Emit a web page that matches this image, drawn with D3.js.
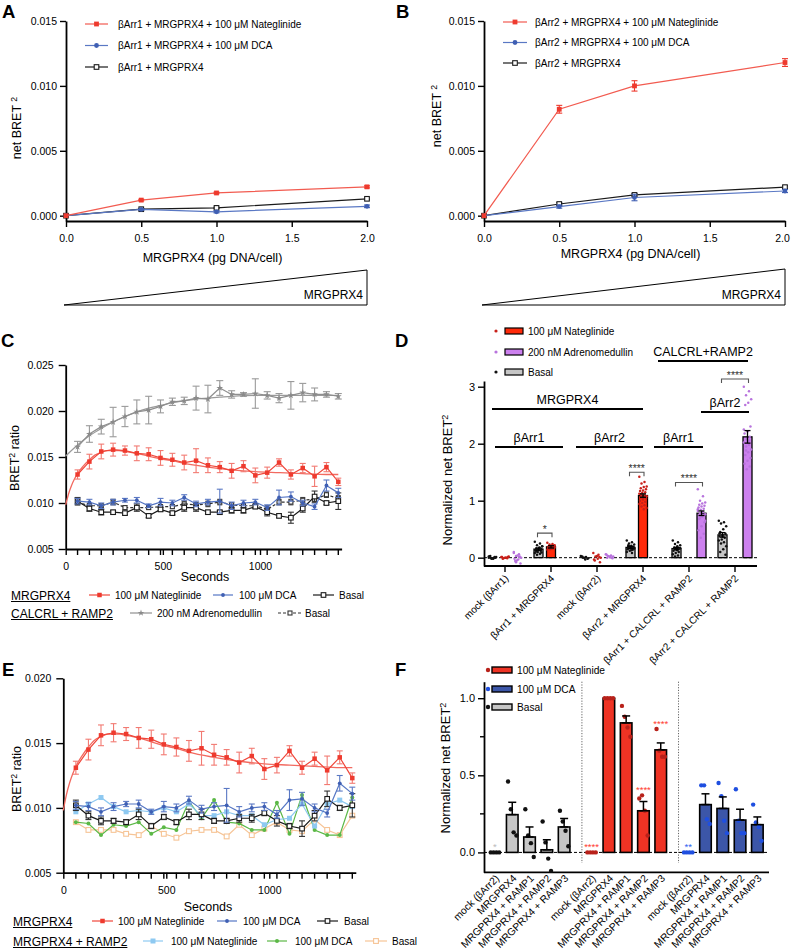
<!DOCTYPE html>
<html><head><meta charset="utf-8">
<script src="https://cdn.jsdelivr.net/npm/d3@7/dist/d3.min.js"></script>
<style>
html,body{margin:0;padding:0;background:#fff;}
svg{display:block;}
</style></head><body>
<script>
// ================= DATA =================
// Panels A/B : dose response
const doseX = [0, 0.5, 1, 2];
const doseTicks = [0, 0.5, 1, 1.5, 2];
const netTicks = [0, 0.005, 0.010, 0.015];
const a_nate = [0, 0.0012, 0.00175, 0.00222];
const a_nateErr = [0, 0.00006, 0.00006, 0.00008];
const a_dca = [0, 0.00048, 0.0003, 0.00072];
const a_dcaErr = [0, 0.00006, 0.00008, 0.0001];
const a_basal = [0, 0.0005, 0.0006, 0.0013];
const a_basalErr = [0, 0.00005, 0.00005, 0.00006];
const b_nate = [0, 0.0082, 0.0100, 0.0118];
const b_nateErr = [0, 0.0003, 0.0004, 0.0003];
const b_dca = [0, 0.0007, 0.0014, 0.0019];
const b_dcaErr = [0, 0.00012, 0.00025, 0.00012];
const b_basal = [0, 0.0009, 0.0016, 0.0022];
const b_basalErr = [0, 0.0001, 0.0001, 0.0001];

// Panels C/E : kinetics
const tSec = [61,122,183,244,305,366,427,488,549,610,671,732,793,854,915,976,1037,1098,1159,1220,1281,1342,1403];
const timeTicks = [0, 500, 1000];
const cTicks = [0.005, 0.010, 0.015, 0.020, 0.025];
const eTicks = [0.005, 0.010, 0.015, 0.020];
const x4Nate = [0.0131,0.0145,0.0156,0.0158,0.0157,0.0154,0.0153,0.0149,0.0147,0.0144,0.0146,0.0141,0.0139,0.0135,0.0140,0.0130,0.0133,0.0144,0.0131,0.0138,0.0129,0.0139,0.0123];
const x4NateErr = [0.0005,0.0008,0.0008,0.0007,0.0005,0.0008,0.0007,0.0008,0.0007,0.0008,0.0013,0.0008,0.0006,0.0008,0.0006,0.0008,0.0006,0.0004,0.0005,0.0005,0.0011,0.0005,0.0004];
const x4NateFitT = [0,15,30,45,61,90,122,150,183,215,244,275,305,366,427,488,549,610,732,854,976,1098,1220,1342,1403];
const x4NateFit = [0.0098,0.0110,0.0119,0.0126,0.0132,0.0140,0.0147,0.0152,0.0155,0.0157,0.0157,0.0157,0.0156,0.0154,0.0151,0.0148,0.0146,0.0143,0.0139,0.0136,0.0134,0.0133,0.0132,0.0131,0.0131];
const x4Dca = [0.0102,0.0101,0.0097,0.0101,0.0103,0.0103,0.0097,0.0101,0.0100,0.0106,0.0099,0.0101,0.0102,0.0097,0.0100,0.0101,0.0095,0.0106,0.0107,0.0100,0.0096,0.0119,0.0111];
const x4DcaErr = [0.0003,0.0003,0.0003,0.0003,0.0002,0.0003,0.0002,0.0004,0.0003,0.0003,0.0003,0.0003,0.0013,0.0004,0.0003,0.0003,0.0003,0.0008,0.0005,0.0003,0.0003,0.0006,0.0005];
const x4Basal = [0.0102,0.0094,0.0090,0.0090,0.0089,0.0095,0.0086,0.0093,0.0089,0.0095,0.0095,0.0090,0.0090,0.0092,0.0092,0.0096,0.0090,0.0086,0.0084,0.0094,0.0107,0.0100,0.0102];
const x4BasalErr = [0.0004,0.0003,0.0003,0.0002,0.0002,0.0004,0.0002,0.0002,0.0002,0.0004,0.0004,0.0002,0.0002,0.0003,0.0003,0.0002,0.0004,0.0002,0.0006,0.0004,0.0006,0.0002,0.0009];
const crAdm = [0.0161,0.0175,0.0183,0.0188,0.0194,0.0199,0.0201,0.0205,0.0210,0.0211,0.0214,0.0213,0.0225,0.0218,0.0218,0.0219,0.0217,0.0214,0.0217,0.0220,0.0218,0.0218,0.0216];
const crAdmErr = [0.0006,0.0009,0.0008,0.0016,0.0011,0.0013,0.0015,0.0007,0.0004,0.0004,0.0013,0.0015,0.0008,0.0004,0.0002,0.0016,0.0004,0.0005,0.0015,0.0010,0.0007,0.0003,0.0003];
const crAdmFitT = [0,61,122,183,244,305,366,427,488,549,610,671,732,793,854,976,1098,1220,1403];
const crAdmFit = [0.0151,0.0163,0.0173,0.0181,0.0188,0.0194,0.0199,0.0203,0.0206,0.0209,0.0211,0.0213,0.0214,0.0215,0.0216,0.0217,0.0217,0.0217,0.0217];
const crBasal = [0.0101,0.0097,0.0097,0.0101,0.0095,0.0095,0.0095,0.0096,0.0096,0.0099,0.0098,0.0099,0.0101,0.0098,0.0097,0.0097,0.0093,0.0101,0.0101,0.0103,0.0104,0.0109,0.0105];
const crBasalErr = [0.0003,0.0002,0.0002,0.0003,0.0002,0.0002,0.0002,0.0002,0.0002,0.0003,0.0002,0.0003,0.0003,0.0002,0.0002,0.0002,0.0004,0.0003,0.0003,0.0003,0.0003,0.0003,0.0003];
const r2Nate = [0.0097,0.0103,0.0108,0.0101,0.0097,0.0098,0.0097,0.0100,0.0097,0.0103,0.0094,0.0094,0.0097,0.0094,0.0094,0.0087,0.0091,0.0092,0.0103,0.0086,0.0103,0.0106,0.0101];
const r2Dca = [0.0089,0.0088,0.0079,0.0087,0.0086,0.0089,0.0080,0.0085,0.0083,0.0105,0.0092,0.0106,0.0089,0.0088,0.0083,0.0083,0.0104,0.0080,0.0110,0.0083,0.0079,0.0079,0.0108];
const r2Basal = [0.0089,0.0083,0.0083,0.0083,0.0080,0.0079,0.0086,0.0080,0.0077,0.0082,0.0083,0.0083,0.0078,0.0087,0.0079,0.0084,0.0089,0.0083,0.0082,0.0091,0.0083,0.0079,0.0094];

// Panel D : normalized net BRET2
const dGroups = ["mock (βArr1)", "βArr1 + MRGPRX4", "mock (βArr2)", "βArr2 + MRGPRX4", "βArr1 + CALCRL + RAMP2", "βArr2 + CALCRL + RAMP2"];
const dTreat = ["Basal", "Nateglinide", "Adrenomedullin"];
const dTicks = [0, 1, 2, 3];
const dBasal = [0.0, 0.15, 0.0, 0.18, 0.16, 0.40];
const dBasalErr = [0.01, 0.02, 0.01, 0.02, 0.02, 0.04];
const dNate = [0.0, 0.19, 0.0, 1.09, null, null];
const dNateErr = [0.01, 0.02, 0.01, 0.03, null, null];
const dAdm = [0.0, null, 0.0, null, 0.78, 2.12];
const dAdmErr = [0.01, null, 0.01, null, 0.04, 0.11];
const dBasalPts = [
  [0.02,0.0,-0.01,0.01,-0.02,0.03,0.0,-0.01,0.02,0.01,-0.02,0.0],
  [0.28,0.25,0.22,0.2,0.18,0.16,0.15,0.14,0.13,0.12,0.1,0.08,0.07,0.05,0.2,0.17,0.11,0.09,0.15,0.13],
  [0.03,0.01,0.0,-0.01,-0.03,0.02,-0.02,0.0,0.01],
  [0.3,0.27,0.25,0.23,0.21,0.19,0.18,0.17,0.15,0.14,0.12,0.1,0.08,0.2,0.16,0.13,0.22,0.19],
  [0.3,0.27,0.24,0.22,0.2,0.18,0.16,0.14,0.12,0.1,0.08,0.06,0.04,0.02,0.17,0.13],
  [0.65,0.62,0.6,0.55,0.5,0.45,0.42,0.4,0.38,0.35,0.32,0.3,0.27,0.25,0.2,0.15,0.1,0.05,0.37,0.43]
];
const dNatePts = [
  [0.01,0.0,-0.01,0.02,0.0,-0.02,0.01,0.0,0.01,-0.01],
  [0.26,0.24,0.23,0.22,0.21,0.2,0.19,0.18,0.17,0.16,0.15,0.14,0.22,0.2,0.18,0.16,0.19,0.21],
  [0.08,0.05,0.02,0.0,-0.02,-0.05,-0.08,0.03,-0.03,0.01],
  [1.42,1.33,1.3,1.25,1.24,1.22,1.2,1.18,1.17,1.15,1.14,1.12,1.1,1.09,1.08,1.06,1.05,1.04,1.02,1.0,0.98,0.96,0.94,0.92,0.9,0.87,0.85,1.11,1.07,1.03],
  null, null
];
const dAdmPts = [
  [0.1,0.06,0.03,0.0,-0.03,-0.06,-0.1,0.04,-0.02,0.02,-0.05,0.08,0.01,-0.08],
  null,
  [0.06,0.04,0.03,0.02,0.01,0.0,-0.01,0.02,0.05,0.0],
  null,
  [1.2,1.08,1.0,0.97,0.95,0.93,0.91,0.9,0.88,0.86,0.84,0.82,0.8,0.78,0.76,0.72,0.68,0.62,0.55,0.48,0.42,0.35,0.85,0.75,0.7,0.65],
  [3.0,2.92,2.85,2.78,2.72,2.68,2.3,2.22,2.18,2.12,2.08,2.02,1.98,1.95,1.9,1.85,1.8,1.75,1.7,1.65,1.6,1.55,2.25,2.05,1.88]
];
const dSig = [
  {group: 1, from: "Basal", to: "Nateglinide", y: 0.43, label: "*"},
  {group: 3, from: "Basal", to: "Nateglinide", y: 1.50, label: "****"},
  {group: 4, from: "Basal", to: "Adrenomedullin", y: 1.32, label: "****"},
  {group: 5, from: "Basal", to: "Adrenomedullin", y: 3.135, label: "****"}
];

// Panel F
const fSets = ["Basal", "Nateglinide", "DCA"];
const fCats = ["mock (βArr2)", "MRGPRX4", "MRGPRX4 + RAMP1", "MRGPRX4 + RAMP2", "MRGPRX4 + RAMP3"];
const fTicks = [0, 0.5, 1.0];
const fMinorTicks = [0.25, 0.75];
const fBasal = [0, 0.245, 0.10, 0.017, 0.165];
const fBasalErr = [0, 0.08, 0.065, 0.065, 0.055];
const fNate = [0, 1.0, 0.84, 0.27, 0.665];
const fNateErr = [0, 0, 0.045, 0.06, 0.045];
const fDca = [0, 0.31, 0.285, 0.21, 0.18];
const fDcaErr = [0, 0.07, 0.075, 0.07, 0.05];
const fBasalPts = [[0,0,0,0],[0.46,0.28,0.13,0.11],[0.28,0.11,0.06,-0.03],[0.2,0.065,-0.04,-0.12],[0.27,0.2,0.14,0.04]];
const fNatePts = [[0,0,0,0],[1,1,1,1],[0.95,0.88,0.81,0.75],[0.35,0.37,0.27,0.11],[0.8,0.66,0.62,0.62]];
const fDcaPts = [[0,0,0,0],[0.435,0.435,0.215,0.185],[0.45,0.365,0.205,0.125],[0.41,0.205,0.125,0.125],[0.31,0.195,0.165,0.075]];
const fBasalSig = ["*", "", "", "", ""];
const fNateSig = ["****", "", "", "****", "****"];
const fDcaSig = ["**", "", "", "", ""];

// ================= DRAWING =================
const FONT = 'Arial, "Liberation Sans", Helvetica, sans-serif';
const svg = d3.select('body').append('svg').attr('width', 791).attr('height', 952).attr('font-family', FONT);
svg.append('rect').attr('width', 791).attr('height', 952).attr('fill', '#fff');

function txt(g, s, x, y, o = {}) {
  const t = g.append('text').attr('x', x).attr('y', y).attr('font-size', o.size || 10.5)
    .attr('fill', o.fill || '#000').attr('text-anchor', o.anchor || 'start').attr('font-family', FONT);
  if (o.weight) t.attr('font-weight', o.weight);
  if (o.rotate) t.attr('transform', `rotate(${o.rotate},${x},${y})`);
  t.text(s);
  return t;
}
function vtitle(g, parts, x, y, size) {
  const t = g.append('text').attr('transform', `translate(${x},${y}) rotate(-90)`)
    .attr('text-anchor', 'middle').attr('font-size', size).attr('font-family', FONT).attr('fill', '#000');
  parts.forEach(p => {
    const s = t.append('tspan').text(p.t);
    if (p.sup) s.attr('font-size', size * 0.7).attr('baseline-shift', '45%');
  });
  return t;
}
function styleAxis(a, fs) {
  a.attr('font-family', FONT).attr('font-size', fs);
  a.select('.domain').attr('stroke', '#000').attr('stroke-width', 1.8);
  a.selectAll('.tick line').attr('stroke', '#000').attr('stroke-width', 1.4);
  a.selectAll('.tick text').attr('fill', '#000');
}
function marker(g, type, x, y, color, s) {
  if (type === 'square') g.append('rect').attr('x', x - s / 2).attr('y', y - s / 2).attr('width', s).attr('height', s).attr('fill', color);
  else if (type === 'osquare') g.append('rect').attr('x', x - s / 2).attr('y', y - s / 2).attr('width', s).attr('height', s).attr('fill', '#fff').attr('stroke', color).attr('stroke-width', 1.1);
  else if (type === 'circle') g.append('circle').attr('cx', x).attr('cy', y).attr('r', s / 2).attr('fill', color);
  else if (type === 'star') g.append('path').attr('d', d3.symbol(d3.symbolStar, s * s * 0.8)()).attr('transform', `translate(${x},${y})`).attr('fill', color);
}
function errBar(g, x, y1, y2, color, cap, w) {
  g.append('line').attr('x1', x).attr('x2', x).attr('y1', y1).attr('y2', y2).attr('stroke', color).attr('stroke-width', w || 1);
  [y1, y2].forEach(yy => g.append('line').attr('x1', x - cap / 2).attr('x2', x + cap / 2).attr('y1', yy).attr('y2', yy).attr('stroke', color).attr('stroke-width', w || 1));
}
function series(g, xs, ys, errs, sx, sy, o) {
  const line = d3.line().x((d, i) => sx(xs[i])).y(d => sy(d));
  g.append('path').attr('d', line(ys)).attr('fill', 'none').attr('stroke', o.line || o.color)
    .attr('stroke-width', o.lw || 1.2).attr('stroke-dasharray', o.dash || null);
  if (errs) ys.forEach((v, i) => { if (errs[i] > 0) errBar(g, sx(xs[i]), sy(v - errs[i]), sy(v + errs[i]), o.errColor || o.color, o.cap || 6, o.errW || 1.1); });
  ys.forEach((v, i) => marker(g, o.marker, sx(xs[i]), sy(v), o.color, o.size || 5));
}
function fitCurve(g, ts, vs, sx, sy, color, w) {
  const line = d3.line().x((d, i) => sx(ts[i])).y(d => sy(d)).curve(d3.curveMonotoneX);
  g.append('path').attr('d', line(vs)).attr('fill', 'none').attr('stroke', color).attr('stroke-width', w || 1.2);
}
function legendLine(g, x1, x2, y, o) {
  g.append('line').attr('x1', x1).attr('x2', x2).attr('y1', y).attr('y2', y).attr('stroke', o.line || o.color)
    .attr('stroke-width', 1.2).attr('stroke-dasharray', o.dash || null);
  marker(g, o.marker, (x1 + x2) / 2, y, o.color, o.size || 5);
}
function underlined(g, s, x, y, size) {
  const t = txt(g, s, x, y, {size: size});
  const w = t.node().getComputedTextLength();
  g.append('line').attr('x1', x).attr('x2', x + w).attr('y1', y + 2).attr('y2', y + 2).attr('stroke', '#000').attr('stroke-width', 1);
}

// colours
const RED = '#ee3a2e', RED_ERR = '#f27a72', BLUE = '#3f5fb3', BLACK = '#1a1a1a', GRAY = '#8a8a8a';
const LBLUE = '#8ec9f1', GREEN = '#5bb846', PEACH = '#f6c496';

// panel letters
txt(svg, 'A', 2, 18, {size: 18.5, weight: 'bold'});
txt(svg, 'B', 396, 18, {size: 18.5, weight: 'bold'});
txt(svg, 'C', 1, 347, {size: 18.5, weight: 'bold'});
txt(svg, 'D', 395, 347, {size: 18.5, weight: 'bold'});
txt(svg, 'E', 2, 676, {size: 18.5, weight: 'bold'});
txt(svg, 'F', 395, 676, {size: 18.5, weight: 'bold'});

// ---------- Panels A & B ----------
const yNet = d3.scaleLinear().domain([-0.00041, 0.015]).range([221, 21]);
function dosePanel(x0, x1, sets, legend, arr, titleY, yTitleX, yTitleY) {
  const sx = d3.scaleLinear().domain([0, 2]).range([x0, x1]);
  const g = svg.append('g');
  styleAxis(g.append('g').attr('transform', `translate(${x0},0)`)
    .call(d3.axisLeft(yNet).tickValues(netTicks).tickFormat(d3.format('.3f')).tickSize(6).tickSizeOuter(0).tickPadding(3)), 10.5);
  const xa = g.append('g').attr('transform', `translate(0,221)`)
    .call(d3.axisBottom(sx).tickValues(doseTicks).tickFormat(d3.format('.1f')).tickSize(6).tickSizeOuter(0).tickPadding(8));
  styleAxis(xa, 10.5);
  // keep the last tick label inside the canvas
  xa.selectAll('.tick text').filter(d => d === 2 && x1 > 780).attr('dx', -3);
  txt(g, 'MRGPRX4 (pg DNA/cell)', (x0 + x1) / 2 - 4, titleY, {size: 12.5, anchor: 'middle'});
  vtitle(g, [{t: 'net BRET '}, {t: '2', sup: true}], yTitleX, yTitleY, 12.5);
  sets.forEach(s => series(g, doseX, s.v, s.e, sx, yNet, s.o));
  legend.forEach((l, i) => {
    legendLine(g, l.x1, l.x2, l.y, l.o);
    txt(g, l.label, l.tx, l.y + 3.6, {size: 10});
  });
  // increasing DNA triangle
  const tri = [[sx(0) - 2, 305], [sx(2), arr], [sx(2), 305]];
  g.append('path').attr('d', d3.line()(tri) + 'Z').attr('fill', 'none').attr('stroke', '#000').attr('stroke-width', 1);
  txt(g, 'MRGPRX4', sx(2) - 4, 299, {size: 12, anchor: 'end'});
}
const oNate = {color: RED, line: '#f25b50', marker: 'square', size: 4.8};
const oDca = {color: BLUE, line: '#5a78c4', marker: 'circle', size: 4.8};
const oBas = {color: BLACK, marker: 'osquare', size: 4.6};
dosePanel(66, 367,
  [{v: a_basal, e: a_basalErr, o: oBas}, {v: a_dca, e: a_dcaErr, o: oDca}, {v: a_nate, e: a_nateErr, o: oNate}],
  [{x1: 85, x2: 108, y: 24, tx: 118, o: oNate, label: 'βArr1 + MRGPRX4 + 100 μM Nateglinide'},
   {x1: 85, x2: 108, y: 45.5, tx: 118, o: oDca, label: 'βArr1 + MRGPRX4 + 100 μM DCA'},
   {x1: 85, x2: 108, y: 67, tx: 118, o: oBas, label: 'βArr1 + MRGPRX4'}],
  270, 262, 21, 128);
dosePanel(484, 785,
  [{v: b_basal, e: b_basalErr, o: oBas}, {v: b_dca, e: b_dcaErr, o: oDca}, {v: b_nate, e: b_nateErr, o: oNate}],
  [{x1: 503, x2: 527, y: 22, tx: 535, o: oNate, label: 'βArr2 + MRGPRX4 + 100 μM Nateglinide'},
   {x1: 503, x2: 527, y: 42.5, tx: 535, o: oDca, label: 'βArr2 + MRGPRX4 + 100 μM DCA'},
   {x1: 503, x2: 527, y: 63, tx: 535, o: oBas, label: 'βArr2 + MRGPRX4'}],
  269, 258, 441, 116);

// ---------- Panels C & E ----------
function timeAxes(g, sx, sy, ticks, axisY, x0) {
  styleAxis(g.append('g').attr('transform', `translate(${x0},0)`)
    .call(d3.axisLeft(sy).tickValues(ticks).tickFormat(d3.format('.3f')).tickSize(7).tickSizeOuter(0).tickPadding(5)), 10.5);
  const xa = g.append('g').attr('transform', `translate(0,${axisY})`)
    .call(d3.axisBottom(sx).tickValues(timeTicks).tickFormat(d3.format('d')).tickSize(6).tickSizeOuter(0).tickPadding(8));
  styleAxis(xa, 10.5);
  tSec.forEach(t => g.append('line').attr('x1', sx(t)).attr('x2', sx(t)).attr('y1', axisY).attr('y2', axisY + 6)
    .attr('stroke', '#000').attr('stroke-width', 1.4));
}
const oNateT = {color: RED, line: '#f0463a', marker: 'square', size: 4.5, errColor: RED_ERR, cap: 6};
const oDcaT = {color: BLUE, line: '#5576c4', marker: 'circle', size: 3.8, errColor: '#5a78c4', cap: 6};
const oBasT = {color: BLACK, marker: 'osquare', size: 4.6, errColor: '#333', cap: 6};
const oAdmT = {color: GRAY, line: '#8f8f8f', marker: 'star', size: 4.2, errColor: '#9a9a9a', cap: 7};
const oCrBasT = {color: '#333', line: '#333', marker: 'osquare', size: 4, dash: '3,2', errColor: '#444', cap: 5};
const oR2Nate = {color: LBLUE, marker: 'square', size: 5};
const oR2Dca = {color: GREEN, marker: 'circle', size: 4};
const oR2Bas = {color: PEACH, marker: 'osquare', size: 4.8};

// Panel C
{
  const g = svg.append('g');
  const sx = d3.scaleLinear().domain([0, 1420]).range([65.7, 341.6]);
  const sy = d3.scaleLinear().domain([0.005, 0.025]).range([549, 365]);
  timeAxes(g, sx, sy, cTicks, 549, 65.7);
  txt(g, 'Seconds', 205, 581, {size: 12.5, anchor: 'middle'});
  vtitle(g, [{t: 'BRET'}, {t: '2', sup: true}, {t: ' ratio'}], 19, 458, 12.5);
  fitCurve(g, crAdmFitT, crAdmFit, sx, sy, '#9a9a9a', 1.3);
  series(g, tSec, crAdm, crAdmErr, sx, sy, oAdmT);
  series(g, tSec, crBasal, crBasalErr, sx, sy, oCrBasT);
  series(g, tSec, x4Basal, x4BasalErr, sx, sy, oBasT);
  series(g, tSec, x4Dca, x4DcaErr, sx, sy, oDcaT);
  fitCurve(g, x4NateFitT, x4NateFit, sx, sy, '#f26a60', 1.3);
  series(g, tSec, x4Nate, x4NateErr, sx, sy, oNateT);
  // legend
  underlined(g, 'MRGPRX4', 11, 599.5, 12);
  legendLine(g, 89, 110, 595, oNateT); txt(g, '100 μM Nateglinide', 115, 598.6, {size: 10});
  legendLine(g, 213, 233, 595, oDcaT); txt(g, '100 μM DCA', 239, 598.6, {size: 10});
  legendLine(g, 313, 334, 595, oBasT); txt(g, 'Basal', 339, 598.6, {size: 10});
  underlined(g, 'CALCRL + RAMP2', 11, 617.5, 12);
  legendLine(g, 130, 152, 613, oAdmT); txt(g, '200 nM Adrenomedullin', 157, 616.6, {size: 10});
  legendLine(g, 278, 302, 613, oCrBasT); txt(g, 'Basal', 305, 616.6, {size: 10});
}

// Panel E
{
  const g = svg.append('g');
  const sx = d3.scaleLinear().domain([0, 1420]).range([63.3, 355.8]);
  const sy = d3.scaleLinear().domain([0.005, 0.020]).range([872.7, 678.3]);
  timeAxes(g, sx, sy, eTicks, 872.7, 63.3);
  txt(g, 'Seconds', 208, 911, {size: 12.5, anchor: 'middle'});
  vtitle(g, [{t: 'BRET'}, {t: '2', sup: true}, {t: ' ratio'}], 21, 779, 12.5);
  series(g, tSec, r2Basal, null, sx, sy, oR2Bas);
  series(g, tSec, r2Dca, null, sx, sy, oR2Dca);
  series(g, tSec, r2Nate, null, sx, sy, oR2Nate);
  series(g, tSec, x4Basal, x4BasalErr, sx, sy, oBasT);
  series(g, tSec, x4Dca, x4DcaErr, sx, sy, oDcaT);
  fitCurve(g, x4NateFitT, x4NateFit, sx, sy, '#f26a60', 1.3);
  series(g, tSec, x4Nate, x4NateErr, sx, sy, oNateT);
  underlined(g, 'MRGPRX4', 13, 925.5, 12);
  legendLine(g, 92, 113, 921, oNateT); txt(g, '100 μM Nateglinide', 118, 924.6, {size: 10});
  legendLine(g, 217, 237, 921, oDcaT); txt(g, '100 μM DCA', 243, 924.6, {size: 10});
  legendLine(g, 317, 338, 921, oBasT); txt(g, 'Basal', 344, 924.6, {size: 10});
  underlined(g, 'MRGPRX4 + RAMP2', 13, 945.5, 12);
  legendLine(g, 143, 163, 941, oR2Nate); txt(g, '100 μM Nateglinide', 171, 944.6, {size: 10});
  legendLine(g, 267, 287, 941, oR2Dca); txt(g, '100 μM DCA', 295, 944.6, {size: 10});
  legendLine(g, 365, 387, 941, oR2Bas); txt(g, 'Basal', 392, 944.6, {size: 10});
}

// ---------- Panel D ----------
{
  const g = svg.append('g');
  const gx = d3.scaleBand().domain(dGroups).range([482, 758]);
  const ix = d3.scaleBand().domain(dTreat).range([6, 40]).paddingInner(0.28);
  const sy = d3.scaleLinear().domain([-0.146, 3.1]).range([566, 381]);
  const cx = (gi, tr) => gx(dGroups[gi]) + ix(tr) + ix.bandwidth() / 2;
  styleAxis(g.append('g').attr('transform', 'translate(484,0)')
    .call(d3.axisLeft(sy).tickValues(dTicks).tickFormat(d3.format('d')).tickSize(6).tickSizeOuter(0).tickPadding(3)), 11);
  const xa = g.append('g').attr('transform', 'translate(0,566)')
    .call(d3.axisBottom(gx).tickSize(6).tickSizeOuter(0).tickFormat(''));
  styleAxis(xa, 10);
  xa.select('.domain').attr('d', 'M484,0H757');
  dGroups.forEach(name => {
    const c = gx(name) + gx.bandwidth() / 2;
    txt(g, name, c + 4, 579, {size: 10, anchor: 'end', rotate: -45});
  });
  vtitle(g, [{t: 'Normalized net BRET'}, {t: '2', sup: true}], 452, 480, 13);
  g.append('line').attr('x1', 484).attr('x2', 757).attr('y1', sy(0)).attr('y2', sy(0))
    .attr('stroke', '#000').attr('stroke-width', 1).attr('stroke-dasharray', '3,2');
  const sets = [
    {tr: 'Basal', v: dBasal, e: dBasalErr, p: dBasalPts, fill: '#c6c6c6', dot: '#111'},
    {tr: 'Nateglinide', v: dNate, e: dNateErr, p: dNatePts, fill: '#ff2a0a', dot: '#c8201a'},
    {tr: 'Adrenomedullin', v: dAdm, e: dAdmErr, p: dAdmPts, fill: '#cc80ee', dot: '#b873dd'}
  ];
  const bw = ix.bandwidth();
  sets.forEach(s => {
    s.v.forEach((v, gi) => {
      if (v === null) return;
      const x = cx(gi, s.tr);
      if (Math.abs(v) > 0.02) {
        g.append('rect').attr('x', x - bw / 2).attr('y', sy(v)).attr('width', bw).attr('height', sy(0) - sy(v))
          .attr('fill', s.fill).attr('stroke', '#000').attr('stroke-width', 1.3);
      }
      const pts = s.p[gi];
      if (pts) pts.forEach((pv, i) => {
        const off = (((i * 7) % 11) - 5) / 5 * (bw / 2 - 0.8);
        g.append('circle').attr('cx', x + off).attr('cy', sy(pv)).attr('r', 1.25).attr('fill', s.dot);
      });
      if (Math.abs(v) > 0.02 && s.e[gi]) errBar(g, x, sy(v - s.e[gi]), sy(v + s.e[gi]), '#000', 6, 1.3);
    });
  });
  // significance brackets
  dSig.forEach(s => {
    const x1 = cx(s.group, s.from) - 1, x2 = cx(s.group, s.to) + 1, y = sy(s.y);
    g.append('path').attr('d', `M${x1},${y + 4}V${y}H${x2}V${y + 4}`).attr('fill', 'none').attr('stroke', '#555').attr('stroke-width', 1.1);
    txt(g, s.label, (x1 + x2) / 2, y - 0.5, {size: 10.5, anchor: 'middle', fill: '#333'});
  });
  // header labels
  const gs = i => gx(dGroups[i]);
  const heads = [
    {t: 'CALCRL+RAMP2', x1: gs(4) - 8, x2: gs(5) + 36, ty: 355.7, ly: 361},
    {t: 'MRGPRX4', x1: gs(0) + 10, x2: gs(3) + 23, ty: 404, ly: 409},
    {t: 'βArr1', x1: gs(0) + 13, x2: gs(1) + 35, ty: 442.3, ly: 447},
    {t: 'βArr2', x1: gs(2) + 2, x2: gs(3) + 23, ty: 442.3, ly: 447},
    {t: 'βArr1', x1: gs(4) - 12, x2: gs(4) + 37, ty: 442.3, ly: 447},
    {t: 'βArr2', x1: gs(5) - 11, x2: gs(5) + 37, ty: 407.3, ly: 412}
  ];
  heads.forEach(h => {
    txt(g, h.t, (h.x1 + h.x2) / 2, h.ty, {size: 12.5, anchor: 'middle'});
    g.append('line').attr('x1', h.x1).attr('x2', h.x2).attr('y1', h.ly).attr('y2', h.ly).attr('stroke', '#000').attr('stroke-width', 1.8);
  });
  // legend
  const leg = [{l: '100 μM Nateglinide', fill: '#ff2a0a', dot: '#c8201a', y: 331},
               {l: '200 nM Adrenomedullin', fill: '#cc80ee', dot: '#b873dd', y: 352},
               {l: 'Basal', fill: '#c6c6c6', dot: '#111', y: 372}];
  leg.forEach(l => {
    g.append('circle').attr('cx', 496).attr('cy', l.y).attr('r', 1.6).attr('fill', l.dot);
    g.append('rect').attr('x', 505).attr('y', l.y - 3).attr('width', 18).attr('height', 6).attr('fill', l.fill).attr('stroke', '#000').attr('stroke-width', 1.2);
    txt(g, l.l, 528, l.y + 3.6, {size: 10});
  });
}

// ---------- Panel F ----------
{
  const g = svg.append('g');
  const gx = d3.scaleBand().domain(fSets).range([486.3, 766]).paddingInner(0.105);
  const ix = d3.scaleBand().domain(fCats).range([0, gx.bandwidth()]).paddingInner(0.33).paddingOuter(0.165);
  const sy = d3.scaleLinear().domain([-0.129, 1.107]).range([872.3, 681.7]);
  const bw = ix.bandwidth();
  styleAxis(g.append('g').attr('transform', 'translate(484,0)')
    .call(d3.axisLeft(sy).tickValues(fTicks).tickFormat(d3.format('.1f')).tickSize(6).tickSizeOuter(0).tickPadding(3)), 11);
  fMinorTicks.forEach(t => g.append('line').attr('x1', 480).attr('x2', 484).attr('y1', sy(t)).attr('y2', sy(t)).attr('stroke', '#000').attr('stroke-width', 1.4));
  g.append('line').attr('x1', 484).attr('x2', 769).attr('y1', 872.3).attr('y2', 872.3).attr('stroke', '#000').attr('stroke-width', 1.8);
  vtitle(g, [{t: 'Normalized net BRET'}, {t: '2', sup: true}], 450, 768, 13);
  g.append('line').attr('x1', 484).attr('x2', 769).attr('y1', sy(0)).attr('y2', sy(0))
    .attr('stroke', '#000').attr('stroke-width', 1).attr('stroke-dasharray', '3,2');
  [1, 2].forEach(k => {
    const xs = gx(fSets[k]) - 1;
    g.append('line').attr('x1', xs).attr('x2', xs).attr('y1', 681.7).attr('y2', 863)
      .attr('stroke', '#666').attr('stroke-width', 1).attr('stroke-dasharray', '1.2,1.5');
  });
  const sets = [
    {k: 'Basal', v: fBasal, e: fBasalErr, p: fBasalPts, sig: fBasalSig, fill: '#c6c6c6', dot: '#111', sigc: '#bbbbbb'},
    {k: 'Nateglinide', v: fNate, e: fNateErr, p: fNatePts, sig: fNateSig, fill: '#ee3324', dot: '#b8211a', sigc: '#ff3b30'},
    {k: 'DCA', v: fDca, e: fDcaErr, p: fDcaPts, sig: fDcaSig, fill: '#3c56a8', dot: '#1f4fe0', sigc: '#2f5ff0'}
  ];
  const offs = [-4.2, -1.4, 1.4, 4.2];
  sets.forEach(s => {
    fCats.forEach((c, ci) => {
      const x = gx(s.k) + ix(c) + bw / 2;
      const v = s.v[ci];
      if (v !== 0) {
        g.append('rect').attr('x', x - bw / 2).attr('y', sy(Math.max(v, 0))).attr('width', bw)
          .attr('height', Math.abs(sy(0) - sy(v))).attr('fill', s.fill).attr('stroke', '#000').attr('stroke-width', 1.6);
      }
      s.p[ci].forEach((pv, i) => g.append('circle').attr('cx', x + offs[i]).attr('cy', sy(pv)).attr('r', 2.2).attr('fill', s.dot));
      if (s.e[ci] > 0) errBar(g, x, sy(v), sy(v + s.e[ci]), '#000', 8, 1.5);
      if (s.sig[ci]) {
        const top = Math.max(d3.max(s.p[ci]), v + s.e[ci]);
        txt(g, s.sig[ci], x, sy(top) - 2.5, {size: 9.5, anchor: 'middle', fill: s.sigc});
      }
      txt(g, c, x + 5, 879, {size: 10.3, anchor: 'end', rotate: -45});
    });
  });
  const leg = [{l: '100 μM Nateglinide', fill: '#ee3324', dot: '#b8211a', y: 670},
               {l: '100 μM DCA', fill: '#3c56a8', dot: '#1f4fe0', y: 689},
               {l: 'Basal', fill: '#c6c6c6', dot: '#111', y: 707}];
  leg.forEach(l => {
    g.append('circle').attr('cx', 488).attr('cy', l.y).attr('r', 2.2).attr('fill', l.dot);
    g.append('rect').attr('x', 492).attr('y', l.y - 3).attr('width', 20).attr('height', 6).attr('fill', l.fill).attr('stroke', '#000').attr('stroke-width', 1.4);
    txt(g, l.l, 517, l.y + 3.6, {size: 10.2});
  });
}
</script>
</body></html>
